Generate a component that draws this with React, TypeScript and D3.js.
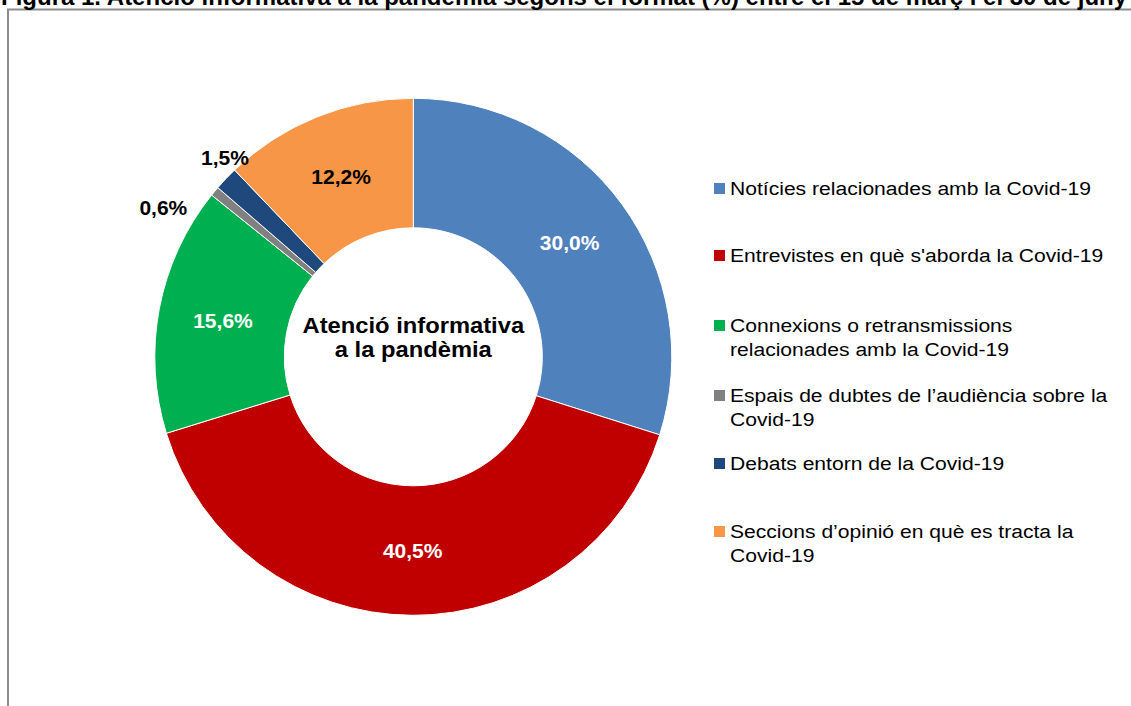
import React from "react";
import * as d3 from "d3";

const title = "Figura 1. Atenció informativa a la pandèmia segons el format (%) entre el 15 de març i el 30 de juny";
const categories = [
  "Notícies relacionades amb la Covid-19",
  "Entrevistes en què s'aborda la Covid-19",
  "Connexions o retransmissions relacionades amb la Covid-19",
  "Espais de dubtes de l’audiència sobre la Covid-19",
  "Debats entorn de la Covid-19",
  "Seccions d’opinió en què es tracta la Covid-19",
];
const legendLines = [
  ["Notícies relacionades amb la Covid-19"],
  ["Entrevistes en què s'aborda la Covid-19"],
  ["Connexions o retransmissions", "relacionades amb la Covid-19"],
  ["Espais de dubtes de l’audiència sobre la", "Covid-19"],
  ["Debats entorn de la Covid-19"],
  ["Seccions d’opinió en què es tracta la", "Covid-19"],
];
const values = [30.0, 40.5, 15.6, 0.6, 1.5, 12.2];
const colors = ["#4F81BD", "#C00000", "#00B050", "#808080", "#1F497D", "#F79646"];
const centerLines = ["Atenció informativa", "a la pandèmia"];

const W = 1131;
const H = 706;
const cx = 413.3;
const cy = 356.8;
const rOuter = 258.5;
const rInner = 129;
const font = "'Liberation Sans', Arial, sans-serif";

// outside-label placement (radius, angle nudge in degrees) for the small slices
const outside = [false, false, false, true, true, false];
const outsideR = [0, 0, 0, 291, 274, 0];
const outsideDeg = [0, 0, 0, -9, 3, 0];
const legendY = [195, 262, 332, 402, 470, 538];

export default function App() {
  const pie = d3.pie<number>().sort(null).value((d) => d);
  const arcs = pie(values);
  const arc = d3.arc<d3.PieArcDatum<number>>().innerRadius(rInner).outerRadius(rOuter);
  const fmt = (v: number) => v.toFixed(1).replace(".", ",") + "%";

  return (
    <div style={{ position: "absolute", left: 0, top: 0 }}>
      <svg width={W} height={H} style={{ display: "block" }}>
        <rect x={0} y={0} width={W} height={H} fill="#fff" />
        <rect x={8} y={9.5} width={W + 20} height={H + 20} fill="#fff" stroke="#8c8c8c" strokeWidth={2} />
        <text x={1} y={4.5} fontFamily={font} fontWeight="bold" fontSize={24} fill="#000">
          {title}
        </text>
        <g transform={`translate(${cx},${cy})`}>
          {arcs.map((a, i) => (
            <path key={i} d={arc(a) || ""} fill={colors[i]} stroke="#fff" strokeWidth={1} />
          ))}
          {arcs.map((a, i) => {
            let x: number, y: number;
            if (outside[i]) {
              const ang = (a.startAngle + a.endAngle) / 2 + (outsideDeg[i] * Math.PI) / 180;
              x = outsideR[i] * Math.sin(ang);
              y = -outsideR[i] * Math.cos(ang);
            } else {
              [x, y] = arc.centroid(a);
            }
            const dark = i === 5 || outside[i];
            return (
              <text
                key={"l" + i}
                x={x}
                y={y}
                dy="0.35em"
                textAnchor="middle"
                fontFamily={font}
                fontWeight="bold"
                fontSize={21}
                fill={dark ? "#000" : "#fff"}
              >
                {fmt(values[i])}
              </text>
            );
          })}
          {centerLines.map((t, i) => (
            <text
              key={"c" + i}
              transform={`translate(0,${-24 + i * 24}) scale(1.08,1)`}
              textAnchor="middle"
              fontFamily={font}
              fontWeight="bold"
              fontSize={22}
              fill="#000"
            >
              {t}
            </text>
          ))}
        </g>
        <g>
          {legendLines.map((lines, i) => (
            <g key={"g" + i}>
              <rect x={714} y={legendY[i] - 12} width={11} height={11} fill={colors[i]} />
              {lines.map((t, j) => (
                <text
                  key={j}
                  transform={`translate(730,${legendY[i] + j * 24}) scale(1.11,1)`}
                  fontFamily={font}
                  fontSize={19}
                  fill="#000"
                >
                  {t}
                </text>
              ))}
            </g>
          ))}
        </g>
      </svg>
    </div>
  );
}
